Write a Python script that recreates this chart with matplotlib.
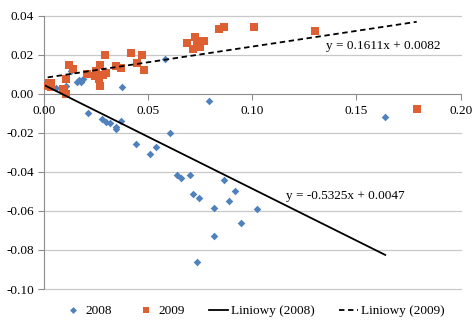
import matplotlib
matplotlib.use("Agg")
import matplotlib.pyplot as plt
from matplotlib.lines import Line2D
import numpy as np

plt.rcParams['font.family'] = ['Liberation Serif', 'DejaVu Serif']

# 2008 series
x2008 = [0.0010, 0.0030, 0.0058, 0.0105, 0.0131, 0.0158, 0.0171, 0.0179, 0.0187,
         0.0214, 0.0281, 0.0297, 0.0320, 0.0347, 0.0347, 0.0372, 0.0377, 0.0444,
         0.0511, 0.0540, 0.0582, 0.0606, 0.0793, 0.0641, 0.0660, 0.0700, 0.0718,
         0.0743, 0.0737, 0.0817, 0.0815, 0.0866, 0.0890, 0.0919, 0.0948, 0.1023,
         0.1638]
y2008 = [0.0050, 0.0034, 0.0032, 0.0042, 0.0120, 0.0063, 0.0072, 0.0060, 0.0075,
         -0.0097, -0.0128, -0.0145, -0.0149, -0.0171, -0.0178, -0.0140, 0.0034, -0.0258,
         -0.0306, -0.0272, 0.0179, -0.0202, -0.0036, -0.0414, -0.0429, -0.0417, -0.0511,
         -0.0533, -0.0862, -0.0583, -0.0728, -0.0441, -0.0550, -0.0497, -0.0662, -0.0591,
         -0.0116]

# 2009 series
x2009 = [0.0019, 0.0027, 0.0034, 0.0035, 0.0091, 0.0097, 0.0107, 0.0107, 0.0121,
         0.0142, 0.0206, 0.0251, 0.0248, 0.0265, 0.0269, 0.0272, 0.0286, 0.0299,
         0.0296, 0.0348, 0.0371, 0.0420, 0.0449, 0.0470, 0.0483, 0.0687, 0.0716,
         0.0724, 0.0734, 0.0745, 0.0751, 0.0770, 0.0842, 0.0865, 0.1009, 0.1303,
         0.1789]
y2009 = [0.0041, 0.0058, 0.0058, 0.0034, 0.0027, 0.0024, 0.0000, 0.0075, 0.0150,
         0.0128, 0.0103, 0.0116, 0.0092, 0.0075, 0.0147, 0.0039, 0.0096, 0.0109,
         0.0198, 0.0144, 0.0135, 0.0209, 0.0161, 0.0198, 0.0123, 0.0260, 0.0229,
         0.0294, 0.0255, 0.0273, 0.0243, 0.0273, 0.0332, 0.0342, 0.0342, 0.0323,
         -0.0075]

# trend line coefficients (as displayed)
slope2008, icpt2008 = -0.5325, 0.0047
slope2009, icpt2009 = 0.1611, 0.0082
eq2008 = "y = -0.5325x + 0.0047"
eq2009 = "y = 0.1611x + 0.0082"

xticks = [0.00, 0.05, 0.10, 0.15, 0.20]
yticks = [-0.10, -0.08, -0.06, -0.04, -0.02, 0.00, 0.02, 0.04]

blue = '#4F81BD'
orange = '#DD5F32'
grid = '#C8C8C8'
fs = 9.5

fig = plt.figure(figsize=(4.77, 3.25), dpi=100)
ax = fig.add_axes([43.7/477, 36/325, (460.7-43.7)/477, (289-15.4)/325])

ax.set_xlim(0, 0.20)
ax.set_ylim(-0.10, 0.0403)

for yv in yticks:
    if yv != 0:
        ax.axhline(yv, color=grid, lw=0.9, zorder=0, clip_on=False)

ax.scatter(x2008, y2008, marker='D', s=15, color=blue, linewidths=0, zorder=3)
ax.scatter(x2009, y2009, marker='s', s=30, color=orange, linewidths=0, zorder=3)

xa = np.array([min(x2008), max(x2008)])
ax.plot(xa, slope2008*xa + icpt2008, color='black', lw=1.3, zorder=4)
xb = np.array([min(x2009), max(x2009)])
ax.plot(xb, slope2009*xb + icpt2009, color='black', lw=1.3, ls=(0, (3, 2)), zorder=4)

ax.text(0.1352, 0.0246, eq2009, fontsize=fs, ha='left', va='center', zorder=5)
ax.text(0.1161, -0.0523, eq2008, fontsize=fs, ha='left', va='center', zorder=5)

ax.spines['top'].set_visible(False)
ax.spines['right'].set_visible(False)
ax.spines['bottom'].set_position(('data', 0))
ax.spines['bottom'].set_color('#8C8C8C')
ax.spines['left'].set_color('#8C8C8C')
ax.spines['left'].set_bounds(-0.10, 0.04)
ax.spines['bottom'].set_zorder(1)
ax.spines['left'].set_zorder(1)

ax.set_xticks(xticks)
ax.set_xticklabels(['%.2f' % v for v in xticks])
ax.set_yticks(yticks)
ax.set_yticklabels(['%.2f' % v for v in yticks])
ax.tick_params(axis='x', direction='out', length=4, color='#8C8C8C', labelsize=fs, pad=4)
ax.tick_params(axis='y', direction='out', length=4, color='#8C8C8C', labelsize=fs, pad=3)

handles = [
    Line2D([], [], marker='D', color=blue, ls='none', markersize=3.5, markeredgewidth=0),
    Line2D([], [], marker='s', color=orange, ls='none', markersize=5, markeredgewidth=0),
    Line2D([], [], color='black', lw=1.3),
    Line2D([], [], color='black', lw=1.3, ls=(0, (3, 2))),
]
labels = ['2008', '2009', 'Liniowy (2008)', 'Liniowy (2009)']
fig.legend(handles, labels, loc='center', bbox_to_anchor=(254/477, 1 - 311/325),
           ncol=4, frameon=False, fontsize=fs, handlelength=1.5, handletextpad=0.2,
           columnspacing=1.8, numpoints=1)

fig.savefig('out.png', dpi=100)
